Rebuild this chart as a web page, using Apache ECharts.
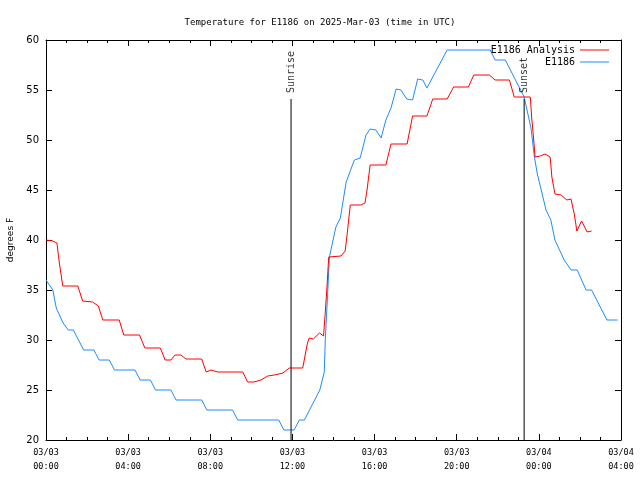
<!DOCTYPE html>
<html>
<head>
<meta charset="utf-8">
<script src="https://cdn.jsdelivr.net/npm/echarts@6/dist/echarts.min.js"></script>
<style>html,body{margin:0;padding:0;background:#fff}#chart{width:640px;height:480px}</style>
</head>
<body>
<div id="chart"></div>
<script>
// ---- data ----
const titleText = 'Temperature for E1186 on 2025-Mar-03 (time in UTC)';
const seriesNames = ['E1186 Analysis', 'E1186'];
const yTicks = [20, 25, 30, 35, 40, 45, 50, 55, 60];
const xStart = '2025-03-03T00:00Z';
const xEnd = '2025-03-04T04:00Z';

const analysisTimes = [
 '2025-03-03T00:00Z','2025-03-03T00:20Z','2025-03-03T00:32Z','2025-03-03T00:39Z','2025-03-03T00:49Z',
 '2025-03-03T01:33Z','2025-03-03T01:47Z','2025-03-03T02:16Z','2025-03-03T02:33Z','2025-03-03T02:46Z',
 '2025-03-03T03:34Z','2025-03-03T03:47Z','2025-03-03T04:33Z','2025-03-03T04:49Z','2025-03-03T05:34Z',
 '2025-03-03T05:48Z','2025-03-03T06:05Z','2025-03-03T06:17Z','2025-03-03T06:34Z','2025-03-03T06:49Z',
 '2025-03-03T07:35Z','2025-03-03T07:48Z','2025-03-03T08:02Z','2025-03-03T08:22Z','2025-03-03T09:35Z',
 '2025-03-03T09:49Z','2025-03-03T10:07Z','2025-03-03T10:28Z','2025-03-03T10:48Z','2025-03-03T11:07Z',
 '2025-03-03T11:32Z','2025-03-03T11:51Z','2025-03-03T12:30Z','2025-03-03T12:44Z','2025-03-03T12:49Z',
 '2025-03-03T13:01Z','2025-03-03T13:19Z','2025-03-03T13:31Z','2025-03-03T13:36Z','2025-03-03T13:41Z',
 '2025-03-03T13:46Z','2025-03-03T14:22Z','2025-03-03T14:34Z','2025-03-03T14:39Z','2025-03-03T14:49Z',
 '2025-03-03T15:20Z','2025-03-03T15:32Z','2025-03-03T15:38Z','2025-03-03T15:47Z','2025-03-03T16:33Z',
 '2025-03-03T16:48Z','2025-03-03T17:35Z','2025-03-03T17:51Z','2025-03-03T18:33Z','2025-03-03T18:50Z',
 '2025-03-03T19:32Z','2025-03-03T19:51Z','2025-03-03T20:34Z','2025-03-03T20:50Z','2025-03-03T21:35Z',
 '2025-03-03T21:52Z','2025-03-03T22:34Z','2025-03-03T22:48Z','2025-03-03T23:35Z','2025-03-03T23:39Z',
 '2025-03-03T23:45Z','2025-03-03T23:49Z','2025-03-04T00:04Z','2025-03-04T00:18Z','2025-03-04T00:33Z',
 '2025-03-04T00:38Z','2025-03-04T00:47Z','2025-03-04T01:05Z','2025-03-04T01:22Z','2025-03-04T01:34Z',
 '2025-03-04T01:44Z','2025-03-04T01:51Z','2025-03-04T02:05Z','2025-03-04T02:21Z','2025-03-04T02:34Z'
];
const analysisValues = [
 40, 39.9, 39.7, 37.7, 35.4,
 35.4, 33.9, 33.8, 33.4, 32,
 32, 30.5, 30.5, 29.2, 29.2,
 28, 28, 28.5, 28.5, 28.1,
 28.1, 26.8, 27, 26.8, 26.8,
 25.8, 25.8, 26, 26.4, 26.5,
 26.7, 27.2, 27.2, 29.7, 30.2,
 30.1, 30.7, 30.4, 32.8, 35.3,
 38.3, 38.4, 38.9, 40.3, 43.5,
 43.5, 43.7, 45, 47.5, 47.5,
 49.6, 49.6, 52.4, 52.4, 54.1,
 54.1, 55.3, 55.3, 56.5, 56.5,
 56, 56, 54.3, 54.3, 52.3,
 50, 48.3, 48.4, 48.6, 48.3,
 46.3, 44.6, 44.5, 44, 44.1,
 42.5, 40.9, 41.9, 40.8, 40.9
];

const obsTimes = [
 '2025-03-03T00:00Z','2025-03-03T00:20Z','2025-03-03T00:30Z','2025-03-03T00:50Z','2025-03-03T01:05Z',
 '2025-03-03T01:20Z','2025-03-03T01:50Z','2025-03-03T02:20Z','2025-03-03T02:35Z','2025-03-03T03:05Z',
 '2025-03-03T03:20Z','2025-03-03T04:20Z','2025-03-03T04:35Z','2025-03-03T05:05Z','2025-03-03T05:20Z',
 '2025-03-03T06:05Z','2025-03-03T06:20Z','2025-03-03T07:35Z','2025-03-03T07:50Z','2025-03-03T09:05Z',
 '2025-03-03T09:20Z','2025-03-03T11:20Z','2025-03-03T11:35Z','2025-03-03T12:05Z','2025-03-03T12:20Z',
 '2025-03-03T12:35Z','2025-03-03T13:20Z','2025-03-03T13:33Z','2025-03-03T13:36Z','2025-03-03T13:43Z',
 '2025-03-03T13:48Z','2025-03-03T14:07Z','2025-03-03T14:20Z','2025-03-03T14:37Z','2025-03-03T15:01Z',
 '2025-03-03T15:18Z','2025-03-03T15:35Z','2025-03-03T15:47Z','2025-03-03T16:04Z','2025-03-03T16:19Z',
 '2025-03-03T16:33Z','2025-03-03T16:48Z','2025-03-03T17:03Z','2025-03-03T17:17Z','2025-03-03T17:34Z',
 '2025-03-03T17:51Z','2025-03-03T18:06Z','2025-03-03T18:21Z','2025-03-03T18:33Z','2025-03-03T19:32Z',
 '2025-03-03T21:38Z','2025-03-03T21:52Z','2025-03-03T22:22Z','2025-03-03T23:17Z','2025-03-03T23:37Z',
 '2025-03-03T23:47Z','2025-03-03T23:55Z','2025-03-04T00:21Z','2025-03-04T00:35Z','2025-03-04T00:47Z',
 '2025-03-04T01:14Z','2025-03-04T01:34Z','2025-03-04T01:52Z','2025-03-04T02:18Z','2025-03-04T02:34Z',
 '2025-03-04T03:19Z','2025-03-04T03:50Z'
];
const obsValues = [
 36, 35, 33.2, 31.7, 31,
 31, 29, 29, 28, 28,
 27, 27, 26, 26, 25,
 25, 24, 24, 23, 23,
 22, 22, 21, 21, 22,
 22, 25, 26.8, 30, 34.7,
 38.3, 41.3, 42.2, 45.8, 48,
 48.2, 50.5, 51.1, 51, 50.2,
 52, 53.2, 55.1, 55, 54.1,
 54, 56.1, 56, 55.2, 59,
 59, 58, 58, 54.3, 51.2,
 48.3, 46.7, 43, 42, 40,
 38, 37, 37, 35, 35,
 32, 32
];

const eventNames = ['Sunrise', 'Sunset'];
const eventTimes = ['2025-03-03T11:56Z', '2025-03-03T23:17Z'];
const eventTop = [54.1, 54.1];

// ---- build ----
const HOUR = 3600000;
const toMs = s => Date.parse(s);
const zip = (ts, vs) => ts.map((t, i) => [toMs(t), vs[i]]);
const pad = n => String(n).padStart(2, '0');
const fmtX = v => { const d = new Date(v); return pad(d.getUTCMonth() + 1) + '/' + pad(d.getUTCDate()) + '\n' + pad(d.getUTCHours()) + ':' + pad(d.getUTCMinutes()); };

const MONO = 'DejaVu Sans Mono';
const xMin = toMs(xStart), xMax = toMs(xEnd);

const baseX = {
  type: 'value', min: xMin, max: xMax, interval: 4 * HOUR,
  axisLine: { show: true, onZero: false, lineStyle: { color: '#000', width: 1 } },
  axisTick: { show: true, inside: true, length: 6, lineStyle: { color: '#000' } },
  minorTick: { show: true, splitNumber: 4, length: 3, lineStyle: { color: '#000' } },
  splitLine: { show: false }, minorSplitLine: { show: false }
};
const baseY = {
  type: 'value', min: yTicks[0], max: yTicks[yTicks.length - 1], interval: yTicks[1] - yTicks[0],
  axisLine: { show: true, onZero: false, lineStyle: { color: '#000', width: 1 } },
  axisTick: { show: true, inside: true, length: 6, lineStyle: { color: '#000' } },
  splitLine: { show: false }
};

const series = [
  {
    name: seriesNames[0], type: 'line', data: zip(analysisTimes, analysisValues),
    showSymbol: false, symbol: 'none', lineStyle: { color: '#ff0000', width: 1 }, itemStyle: { color: '#ff0000' }, z: 3
  },
  {
    name: seriesNames[1], type: 'line', data: zip(obsTimes, obsValues),
    showSymbol: false, symbol: 'none', lineStyle: { color: '#1e8cff', width: 1 }, itemStyle: { color: '#1e8cff' }, z: 2
  }
];
eventNames.forEach((nm, i) => {
  const t = toMs(eventTimes[i]);
  series.push({
    type: 'line', data: [[t, yTicks[0]], [t, eventTop[i]]], symbol: 'none', silent: true,
    lineStyle: { color: '#000', width: 1 }, z: 4
  });
  series.push({
    type: 'scatter', data: [[t, eventTop[i]]], symbol: 'circle', symbolSize: 2,
    itemStyle: { color: 'rgba(0,0,0,0)' }, silent: true,
    label: {
      show: true, formatter: nm, position: 'top', distance: 5, rotate: 90,
      align: 'left', verticalAlign: 'middle', color: '#000', fontFamily: MONO, fontSize: 10
    }, z: 5
  });
});

const chart = echarts.init(document.getElementById('chart'), null, { renderer: 'canvas' });
chart.setOption({
  animation: false,
  backgroundColor: '#fff',
  title: {
    text: titleText, left: 'center', top: 13,
    textStyle: { fontFamily: MONO, fontSize: 9, fontWeight: 'normal', color: '#000' }
  },
  legend: {
    data: seriesNames, orient: 'vertical', right: 26, top: 39, align: 'right',
    itemWidth: 29, itemHeight: 1, itemGap: 0, icon: 'rect',
    textStyle: { fontFamily: MONO, fontSize: 10, color: '#000', lineHeight: 12 }
  },
  grid: { left: 46, right: 19, top: 40, bottom: 40, containLabel: false, outerBoundsMode: 'none' },
  xAxis: [
    Object.assign({}, baseX, {
      position: 'bottom',
      axisLabel: { show: true, formatter: fmtX, fontFamily: MONO, fontSize: 8.5, color: '#000', lineHeight: 14, margin: 6 }
    }),
    Object.assign({}, baseX, { position: 'top', axisLabel: { show: false } })
  ],
  yAxis: [
    Object.assign({}, baseY, {
      position: 'left', name: 'degrees F', nameLocation: 'middle', nameGap: 30, nameRotate: 90,
      nameTextStyle: { fontFamily: 'DejaVu Sans', fontSize: 9, color: '#000' },
      axisLabel: { show: true, fontFamily: 'DejaVu Sans', fontSize: 10, color: '#000', margin: 7 }
    }),
    Object.assign({}, baseY, { position: 'right', axisLabel: { show: false } })
  ],
  series: series
});
</script>
</body>
</html>
